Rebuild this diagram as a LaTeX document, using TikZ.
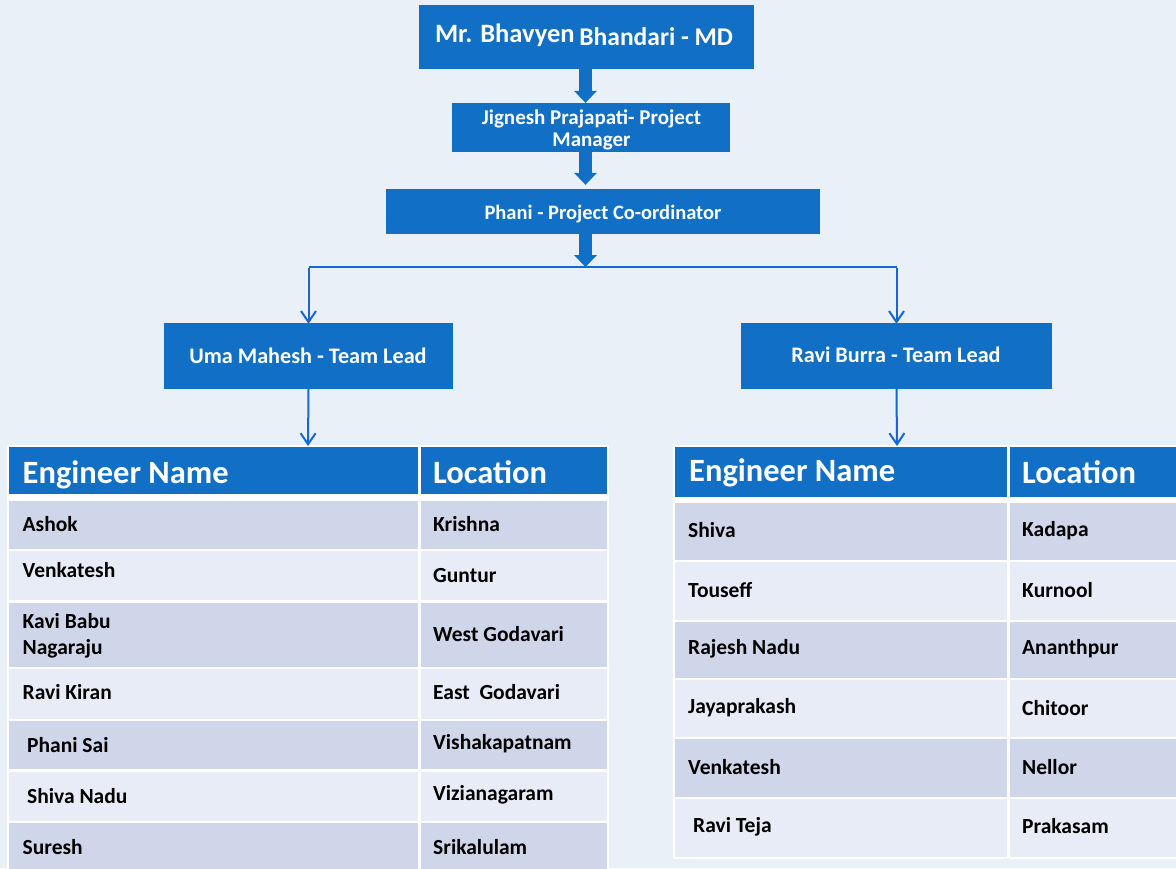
\documentclass[tikz,border=0pt]{standalone}
\usepackage{fontspec}
\setmainfont{Carlito}
\usetikzlibrary{arrows.meta}
\definecolor{bgc}{RGB}{233,240,247}
\definecolor{boxc}{RGB}{17,112,198}
\definecolor{linec}{RGB}{22,102,212}
\definecolor{rowd}{RGB}{207,214,234}
\definecolor{rowl}{RGB}{232,236,246}
\tikzset{
  orgbox/.style={fill=boxc, inner sep=0pt},
  boxtxt/.style={anchor=base, inner sep=0pt, text=white, font=\bfseries\fontsize{21}{22}\selectfont},
  blk/.style={draw=boxc, line width=13pt, -{Triangle[width=23pt,length=12pt,line width=0pt]}},
  conn/.style={draw=linec, line width=2pt, -{Straight Barb[width=15pt,length=11pt,line width=2pt]}},
  plain/.style={draw=linec, line width=2pt},
  hdr/.style={anchor=base west, inner sep=0pt, text=white, font=\bfseries\fontsize{32.5}{33}\selectfont},
  cell/.style={anchor=base west, inner sep=0pt, text=black, font=\bfseries\fontsize{21.5}{23}\selectfont},
}
\begin{document}
\begin{tikzpicture}[x=1pt,y=-1pt]
\fill[bgc] (0,0) rectangle (1176,868);
\useasboundingbox (0,0) rectangle (1176,868);

% org boxes
\node[orgbox, minimum width=335pt, minimum height=64pt] (md) at (586.5,37) {};
\node[boxtxt] (mdt) at (584,42) {{\fontsize{26.5}{28}\selectfont Mr. Bhavyen} \raisebox{-3pt}{\fontsize{25.5}{28}\selectfont Bhandari - MD}};
\node[orgbox, minimum width=278pt, minimum height=49pt] (pm) at (591,127.5) {};
\node[boxtxt] (pmt1) at (591.5,124) {Jignesh Prajapati- Project};
\node[boxtxt] (pmt2) at (591.5,146) {Manager};
\node[orgbox, minimum width=434pt, minimum height=45pt] (co) at (603,211.5) {};
\node[boxtxt, font=\bfseries\fontsize{20.5}{22}\selectfont] (cot) at (603,219) {Phani - Project Co-ordinator};
\node[orgbox, minimum width=289pt, minimum height=66pt] (uma) at (308.5,356) {};
\node[boxtxt, font=\bfseries\fontsize{22.2}{23}\selectfont] (umat) at (308,363) {Uma Mahesh - Team Lead};
\node[orgbox, minimum width=311pt, minimum height=66pt] (ravi) at (896.5,356) {};
\node[boxtxt, font=\bfseries\fontsize{22.2}{23}\selectfont] (ravit) at (896,362) {Ravi Burra - Team Lead};

% block arrows
\coordinate (split) at (585.5,267);
\draw[blk] ([xshift=-1pt]md.south) -- ([xshift=-1pt]md.south |- pm.north);
\draw[blk] ([xshift=-1pt]md.south |- pm.south) -- ([xshift=-1pt,yshift=4pt]md.south |- co.north);
\draw[blk] ([xshift=-1pt]md.south |- co.south) -- (split);

% left table
\fill[white] (7,445) rectangle (609,870);
\fill[boxc] (9,447) rectangle (418,494);
\fill[boxc] (421,447) rectangle (607,494);
\foreach \ya/\yb/\c in {501/549/rowd, 551/600/rowl, 603/667/rowd, 669/719/rowl, 721/769/rowd, 772/821/rowl, 823/870/rowd}{
  \fill[\c] (9,\ya) rectangle (418,\yb);
  \fill[\c] (421,\ya) rectangle (607,\yb);
}
\coordinate (ltop) at (308,446);
% right table
\fill[white] (673,445) rectangle (1180,859);
\fill[boxc] (675,447) rectangle (1006.5,497);
\fill[boxc] (1009.5,447) rectangle (1180,497);
\foreach \ya/\yb/\c in {503/560/rowd, 562/620/rowl, 622/678/rowd, 680/737/rowl, 739/797/rowd, 799/857/rowl}{
  \fill[\c] (675,\ya) rectangle (1006.5,\yb);
  \fill[\c] (1009.5,\ya) rectangle (1180,\yb);
}
\coordinate (rtop) at (897,446);

% thin connectors
\draw[plain] (uma.north |- split) -- (ravi.north |- split);
\draw[conn] ([yshift=-1pt]uma.north |- split) -- ([yshift=-1pt]uma.north);
\draw[conn] ([yshift=-1pt]ravi.north |- split) -- ([yshift=-1pt]ravi.north);
\draw[conn] (uma.south) -- (ltop);
\draw[conn] (ravi.south) -- (rtop);

% left table text
\node[hdr] (lh1) at (22.5,483) {Engineer Name};
\node[hdr] (lh2) at (433,483) {Location};
\node[cell] (l1a) at (22.5,531) {Ashok};
\node[cell] (l1b) at (433,531) {Krishna};
\node[cell] (l2a) at (22.5,577) {Venkatesh};
\node[cell] (l2b) at (433,582) {Guntur};
\node[cell] (l3a) at (22.5,628) {Kavi Babu};
\node[cell] (l3c) at (22.5,654) {Nagaraju};
\node[cell] (l3b) at (433,641) {West Godavari};
\node[cell] (l4a) at (22.5,699) {Ravi Kiran};
\node[cell] (l4b) at (433,699) {East\ \ Godavari};
\node[cell] (l5a) at (27,752) {Phani Sai};
\node[cell] (l5b) at (433,749) {Vishakapatnam};
\node[cell] (l6a) at (27,803) {Shiva Nadu};
\node[cell] (l6b) at (433,800) {Vizianagaram};
\node[cell] (l7a) at (22.5,854) {Suresh};
\node[cell] (l7b) at (433,854) {Srikalulam};

% right table text
\node[hdr] (rh1) at (689,481) {Engineer Name};
\node[hdr] (rh2) at (1022,483) {Location};
\node[cell] (r1a) at (688,537) {Shiva};
\node[cell] (r1b) at (1022,536) {Kadapa};
\node[cell] (r2a) at (688,597) {Touseff};
\node[cell] (r2b) at (1022,597) {Kurnool};
\node[cell] (r3a) at (688,654) {Rajesh Nadu};
\node[cell] (r3b) at (1022,654) {Ananthpur};
\node[cell] (r4a) at (688,713) {Jayaprakash};
\node[cell] (r4b) at (1022,715) {Chitoor};
\node[cell] (r5a) at (688,774) {Venkatesh};
\node[cell] (r5b) at (1022,774) {Nellor};
\node[cell] (r6a) at (693,832) {Ravi Teja};
\node[cell] (r6b) at (1022,833) {Prakasam};
\end{tikzpicture}
\end{document}
